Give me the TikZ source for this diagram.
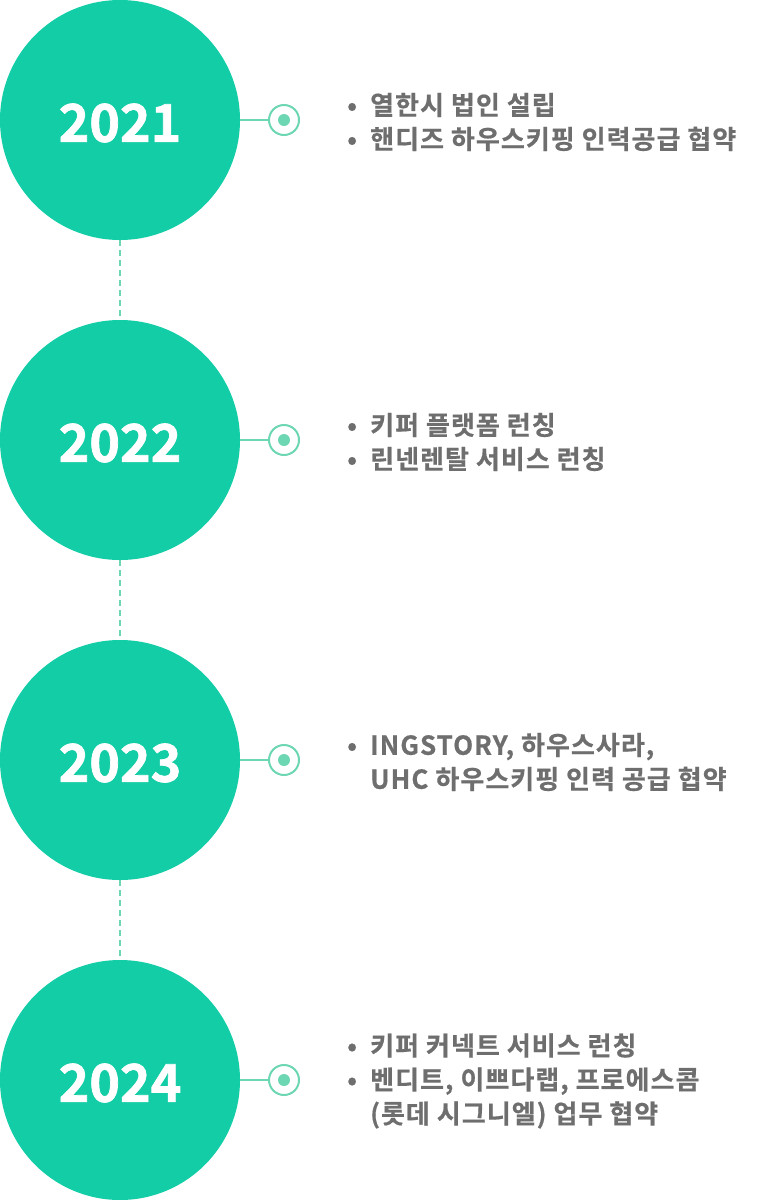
\documentclass[tikz,border=0pt]{standalone}
\usepackage{fontspec}
\setmainfont{Noto Sans CJK KR}[BoldFont={Noto Sans CJK KR Bold}]
\newfontfamily\krb{Noto Sans CJK KR Bold}[FakeBold=0.6,LetterSpace=4]
\newfontfamily\kryear{Noto Sans CJK KR Bold}[FakeBold=1.4]
\definecolor{mint}{HTML}{13CDA6}
\definecolor{mintl}{HTML}{6DD6B2}
\definecolor{txtgray}{HTML}{6E6E6E}
\begin{document}
\begin{tikzpicture}[x=1pt,y=-1pt,
  yearcircle/.style={circle,fill=mint,minimum size=240pt,inner sep=0pt},
  yeartext/.style={text=white,font=\kryear\fontsize{52}{56}\selectfont},
  ring/.style={circle,draw=mintl,line width=2pt,fill=white,minimum size=30pt,inner sep=0pt},
  dot/.style={circle,fill=mintl,minimum size=12pt,inner sep=0pt},
  link/.style={draw=mintl,line width=2pt},
  dashlink/.style={draw=mintl,line width=2pt,dash pattern=on 6pt off 4pt},
  items/.style={anchor=west,inner sep=0pt,align=left,text=txtgray,font=\krb\fontsize{26}{34}\selectfont}
]
\useasboundingbox (0,0) rectangle (784,1200);
\newcommand{\bl}{\makebox[25pt][l]{\hspace*{2pt}•}}
\newcommand{\ind}{\hspace*{25pt}}
\foreach \i/\yr/\yy in {1/2021/120,2/2022/440,3/2023/760,4/2024/1080}{
  \node[yearcircle] (c\i) at (120,\yy) {};
  \node[yeartext] (y\i) at (120,\yy+3) {\yr};
  \node[ring] (r\i) at (284,\yy) {};
  \node[dot] (d\i) at (284,\yy) {};
  \draw[link] (c\i.east) -- (r\i.west);
}
\draw[dashlink] (c1.south) -- (c2.north);
\draw[dashlink] (c2.south) -- (c3.north);
\draw[dashlink] (c3.south) -- (c4.north);
\node[items] (t1) at (345,122) {\bl 열한시 법인 설립\\\bl 핸디즈 하우스키핑 인력공급 협약};
\node[items] (t2) at (345,442) {\bl 키퍼 플랫폼 런칭\\\bl 린넨렌탈 서비스 런칭};
\node[items] (t3) at (345,762) {\bl INGSTORY, 하우스사라,\\\ind UHC 하우스키핑 인력 공급 협약};
\node[items] (t4) at (345,1081) {\bl 키퍼 커넥트 서비스 런칭\\\bl 벤디트, 이쁘다랩, 프로에스콤\\\ind (롯데 시그니엘) 업무 협약};
\end{tikzpicture}
\end{document}
